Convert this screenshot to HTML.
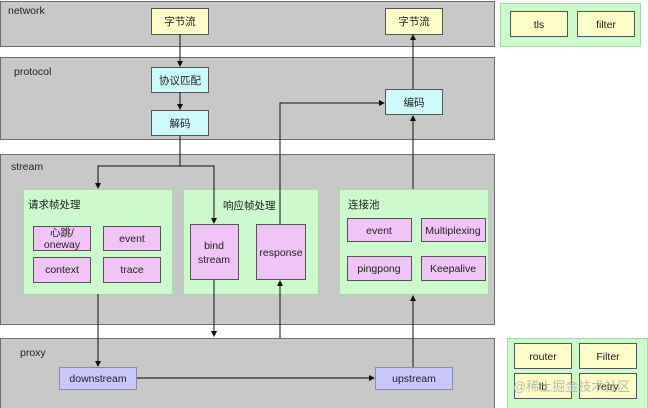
<!DOCTYPE html>
<html><head><meta charset="utf-8"><style>
html,body{margin:0;padding:0;background:#fff;}
svg{display:block;font-family:"Liberation Sans","Noto Sans CJK SC",sans-serif;}
</style></head><body>
<svg width="648" height="408" viewBox="0 0 648 408" xmlns="http://www.w3.org/2000/svg">
<defs><marker id="a" markerUnits="userSpaceOnUse" markerWidth="6" markerHeight="6" refX="5" refY="3" orient="auto"><path d="M0,0 L6,3 L0,6 z" fill="#111"/></marker></defs>
<g stroke="#6f6f6f" stroke-width="1" fill="#c8c8c8">
<rect x="0.5" y="1.5" width="494" height="45"/>
<rect x="0.5" y="57.5" width="494" height="82"/>
<rect x="0.5" y="154.5" width="494" height="170"/>
<rect x="0.5" y="338.5" width="494" height="72"/>
</g>
<g stroke="#a8d8a8" fill="#ccfacc">
<rect x="500.5" y="3.5" width="140" height="43"/>
<rect x="507.5" y="338.5" width="140" height="72"/>
<rect x="23.5" y="189.5" width="149" height="105"/>
<rect x="183.5" y="189.5" width="135" height="105"/>
<rect x="339.5" y="189.5" width="149" height="105"/>
</g>
<g stroke="#555" fill="#fdfdc8">
<rect x="151.5" y="8.5" width="57" height="26"/>
<rect x="385.5" y="8.5" width="57" height="26"/>
<rect x="510.5" y="11.5" width="57" height="25"/>
<rect x="577.5" y="11.5" width="57" height="25"/>
<rect x="514.5" y="343.5" width="57" height="25"/>
<rect x="579.5" y="343.5" width="57" height="25"/>
<rect x="514.5" y="373.5" width="57" height="25"/>
<rect x="579.5" y="373.5" width="57" height="25"/>
</g>
<g stroke="#555" fill="#cdfafa">
<rect x="151.5" y="67.5" width="57" height="25"/>
<rect x="151.5" y="110.5" width="57" height="25"/>
<rect x="385.5" y="89.5" width="57" height="25"/>
</g>
<g stroke="#555" fill="#f0c4f6">
<rect x="33.5" y="226.5" width="57" height="24"/>
<rect x="103.5" y="226.5" width="57" height="24"/>
<rect x="33.5" y="257.5" width="57" height="25"/>
<rect x="103.5" y="257.5" width="57" height="25"/>
<rect x="190.5" y="224.5" width="48" height="55"/>
<rect x="256.5" y="224.5" width="49" height="55"/>
<rect x="347.5" y="218.5" width="64" height="23"/>
<rect x="421.5" y="218.5" width="64" height="23"/>
<rect x="347.5" y="256.5" width="64" height="24"/>
<rect x="421.5" y="256.5" width="64" height="24"/>
</g>
<g stroke="#8888bb" fill="#c8c8fa">
<rect x="59.5" y="367.5" width="77" height="22"/>
<rect x="375.5" y="367.5" width="77" height="22"/>
</g>
<g stroke="#111" stroke-width="1" fill="none">
<path d="M180,34 V66" marker-end="url(#a)"/>
<path d="M180,92 V109" marker-end="url(#a)"/>
<path d="M180,136 V166 H98 V188" marker-end="url(#a)"/>
<path d="M180,166 H214 V223" marker-end="url(#a)"/>
<path d="M413,89 V35" marker-end="url(#a)"/>
<path d="M413,189 V116" marker-end="url(#a)"/>
<path d="M280,224 V103 H384" marker-end="url(#a)"/>
<path d="M98,294 V366" marker-end="url(#a)"/>
<path d="M214,280 V336" marker-end="url(#a)"/>
<path d="M280,338 V281" marker-end="url(#a)"/>
<path d="M413,367 V296" marker-end="url(#a)"/>
<path d="M137,378 H374" marker-end="url(#a)" stroke="#444" stroke-width="1.5"/>
</g>
<g font-size="10.5" fill="#222">
<text x="8" y="14">network</text>
<text x="14" y="75">protocol</text>
<text x="11" y="170">stream</text>
<text x="20" y="356">proxy</text>
<text x="28" y="208">请求帧处理</text>
<text x="223" y="209">响应帧处理</text>
<text x="348" y="208">连接池</text>
</g>
<g font-size="10.5" fill="#222" text-anchor="middle">
<text x="180" y="25">字节流</text>
<text x="414" y="25">字节流</text>
<text x="539" y="28">tls</text>
<text x="606" y="28">filter</text>
<text x="180" y="84">协议匹配</text>
<text x="180" y="127">解码</text>
<text x="414" y="106">编码</text>
<text x="62" y="236">心跳/</text>
<text x="62" y="248">oneway</text>
<text x="132" y="242">event</text>
<text x="62" y="273">context</text>
<text x="132" y="273">trace</text>
<text x="214" y="249">bind</text>
<text x="214" y="263">stream</text>
<text x="281" y="256">response</text>
<text x="379" y="234">event</text>
<text x="453" y="234">Multiplexing</text>
<text x="379" y="272">pingpong</text>
<text x="453" y="272">Keepalive</text>
<text x="98" y="382">downstream</text>
<text x="414" y="382">upstream</text>
<text x="543" y="360">router</text>
<text x="608" y="360">Filter</text>
<text x="543" y="390">lb</text>
<text x="608" y="390">retry</text>
</g>
<text x="513" y="391" font-size="13" fill="#aaa" fill-opacity="0.8">@稀土掘金技术社区</text>
</svg>
</body></html>
